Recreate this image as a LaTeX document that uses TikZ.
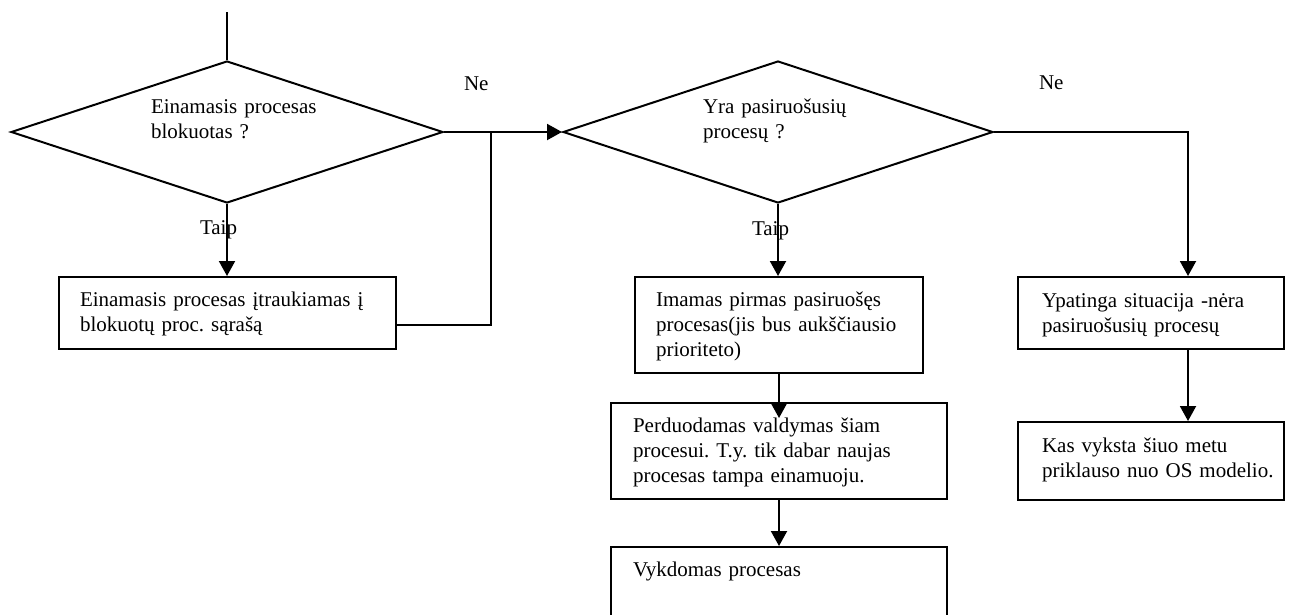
\documentclass[tikz,border=0pt]{standalone}
\usepackage{fontspec}
\setmainfont{Liberation Serif}
\usetikzlibrary{arrows.meta,shapes.geometric}
\frenchspacing
\begin{document}
\begin{tikzpicture}[x=1pt,y=-1pt,
  line width=2pt,
  every node/.style={inner sep=0pt},
  box/.style={draw, rectangle, anchor=north west},
  decision/.style={draw, diamond, minimum width=432pt, minimum height=142pt},
  txt/.style={anchor=base west, align=left, text width=420pt, font=\fontsize{21}{25}\selectfont},
  lbl/.style={anchor=base west, font=\fontsize{21}{25}\selectfont},
  flow/.style={-{Triangle[length=15pt,width=16pt]}},
]
\useasboundingbox (0,0) rectangle (1311,614);

% decisions
\coordinate (top) at (227,12);
\node[decision] (d1) at (227,132) {};
\node[decision, minimum width=430pt] (d2) at (778,132) {};
\node[txt] (t1) at (150,113) {Einamasis procesas\\blokuotas ?};
\node[txt] (t2) at (702,113) {Yra pasiruošusių\\procesų ?};

% process boxes
\node[box, minimum width=337pt, minimum height=72pt] (L) at (58,276) {};
\node[txt] (tL) at (79,306) {Einamasis procesas įtraukiamas į\\blokuotų proc. sąrašą};

\node[box, minimum width=288pt, minimum height=96pt] (A) at (634,276) {};
\node[txt] (tA) at (655,306) {Imamas pirmas pasiruošęs\\procesas(jis bus aukščiausio\\prioriteto)};

\node[box, minimum width=336pt, minimum height=96pt] (B) at (610,402) {};
\node[txt] (tB) at (632,432) {Perduodamas valdymas šiam\\procesui. T.y. tik dabar naujas\\procesas tampa einamuoju.};

\node[box, minimum width=336pt, minimum height=80pt] (C) at (610,546) {};
\node[txt] (tC) at (632,576) {Vykdomas procesas};

\node[box, minimum width=266pt, minimum height=72pt] (D) at (1017,276) {};
\node[txt] (tD) at (1041,307) {Ypatinga situacija -nėra\\pasiruošusių procesų};

\node[box, minimum width=266pt, minimum height=78pt] (E) at (1017,421) {};
\node[txt] (tE) at (1041,452) {Kas vyksta šiuo metu\\priklauso nuo OS modelio.};

% branch labels
\node[lbl] (ne1) at (463,90) {Ne};
\node[lbl] (ne2) at (1038,89) {Ne};
\node[lbl] (taip1) at (199,234) {Taip};
\node[lbl] (taip2) at (751,235) {Taip};

% connectors
\draw (top) -- (d1.north);
\draw[flow] (d1.east) -- (d2.west);
\draw[flow] (d1.south) -- (d1.south |- L.north);
\coordinate (fb) at ([yshift=-12pt]L.east);
\coordinate (jn) at (491,132);
\draw (fb) -- (fb -| jn) -- (jn);
\draw[flow] (d2.south) -- (d2.south |- A.north);
\draw[flow, shorten >=-16pt] (A.south) -- (A.south |- B.north);
\draw[flow] (B.south) -- (B.south |- C.north);
\coordinate (rc) at (1188,132);
\draw[flow] (d2.east) -- (rc) -- (rc |- D.north);
\draw[flow] (rc |- D.south) -- (rc |- E.north);
\end{tikzpicture}
\end{document}
